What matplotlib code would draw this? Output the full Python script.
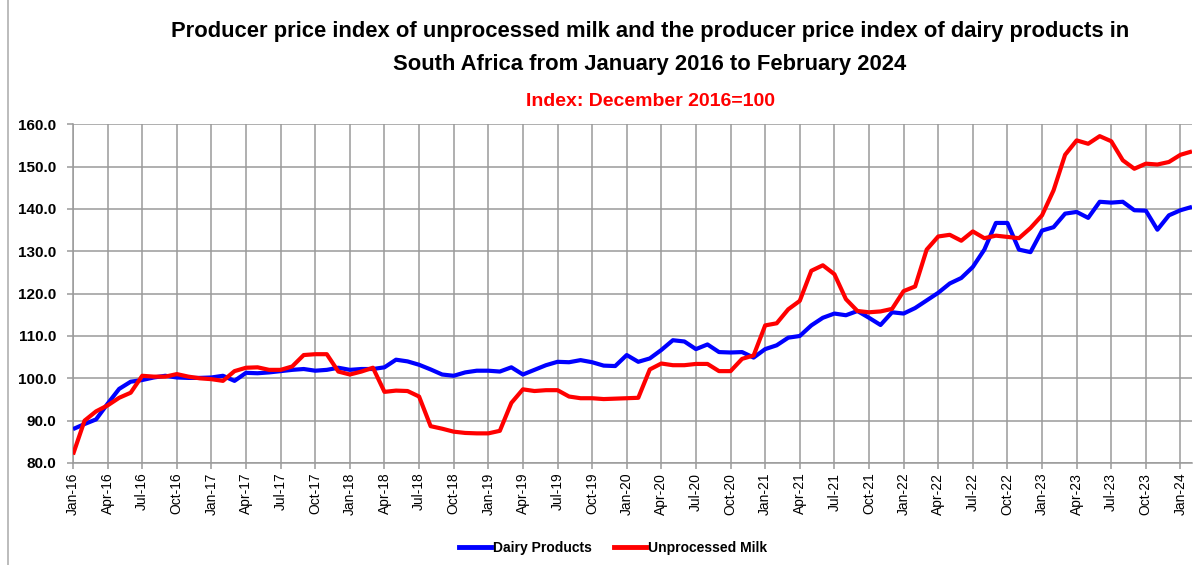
import matplotlib
matplotlib.use("Agg")
import matplotlib.pyplot as plt
from matplotlib.lines import Line2D

months = ["Jan", "Feb", "Mar", "Apr", "May", "Jun", "Jul", "Aug", "Sep", "Oct", "Nov", "Dec"]
dates = [f"{m}-{y:02d}" for y in range(16, 25) for m in months][:98]

dairy = [
    88.0, 89.2, 90.3, 94.0, 97.5, 99.2, 99.6, 100.2, 100.6, 100.2, 100.1, 100.1,
    100.2, 100.6, 99.4, 101.3, 101.2, 101.4, 101.7, 102.0, 102.2, 101.8, 102.0, 102.5,
    102.0, 102.2, 102.2, 102.6, 104.4, 104.0, 103.2, 102.1, 100.9, 100.6, 101.4, 101.8,
    101.8, 101.6, 102.6, 100.9, 102.0, 103.1, 103.9, 103.8, 104.3, 103.8, 103.0, 102.9,
    105.5, 103.9, 104.7, 106.7, 109.0, 108.7, 106.9, 108.0, 106.2, 106.1, 106.2, 104.9,
    106.9, 107.8, 109.6, 110.0, 112.5, 114.3, 115.3, 114.9, 115.9, 114.3, 112.6, 115.6,
    115.3, 116.6, 118.4, 120.2, 122.4, 123.7, 126.3, 130.4, 136.7, 136.7, 130.4, 129.8,
    134.9, 135.7, 138.9, 139.3, 137.9, 141.7, 141.5, 141.7, 139.7, 139.6, 135.1, 138.5,
    139.7, 140.5,
]
milk = [
    82.0, 90.0, 92.2, 93.6, 95.4, 96.6, 100.6, 100.4, 100.4, 101.0, 100.4, 100.0,
    99.8, 99.4, 101.7, 102.5, 102.6, 102.0, 102.0, 102.8, 105.5, 105.7, 105.7, 101.6,
    100.9, 101.6, 102.5, 96.8, 97.1, 97.0, 95.7, 88.7, 88.1, 87.4, 87.1, 87.0,
    87.0, 87.6, 94.2, 97.4, 97.0, 97.2, 97.2, 95.7, 95.3, 95.3, 95.1, 95.2,
    95.3, 95.4, 102.1, 103.5, 103.1, 103.1, 103.4, 103.4, 101.7, 101.7, 104.6, 105.4,
    112.5, 113.0, 116.3, 118.3, 125.4, 126.7, 124.6, 118.7, 115.9, 115.6, 115.8, 116.4,
    120.6, 121.7, 130.4, 133.5, 133.9, 132.5, 134.7, 133.1, 133.7, 133.4, 133.1, 135.5,
    138.5, 144.4, 152.8, 156.2, 155.4, 157.2, 156.0, 151.5, 149.5, 150.7, 150.5, 151.1,
    152.8, 153.6,
]

title = ("Producer price index of unprocessed milk and the producer price index of dairy products in\n"
         "South Africa from January 2016 to February 2024")
subtitle = "Index: December 2016=100"
series_names = ["Dairy Products", "Unprocessed Milk"]
yticks = [80, 90, 100, 110, 120, 130, 140, 150, 160]

plt.rcParams['font.family'] = ['Liberation Sans', 'DejaVu Sans']

W, H = 1198, 565
fig = plt.figure(figsize=(W / 100, H / 100), dpi=100)
ax = fig.add_axes([73 / W, 1 - 463 / H, (1192 - 73) / W, (463 - 124.3) / H])

x = list(range(len(dates)))
grid_c = "#9a9a9a"
ax.plot(x, dairy, color="#0000FF", lw=3.0, solid_capstyle="butt", zorder=3)
ax.plot(x, milk, color="#FF0000", lw=3.0, solid_capstyle="butt", zorder=4)

ax.set_xlim(0, len(dates) - 1)
ax.set_ylim(80, 160)
ax.set_yticks(yticks)
ax.set_yticklabels([f"{v:.1f}" for v in yticks], fontsize=11, fontweight="bold")
tick_pos = list(range(0, len(dates), 3))
ax.set_xticks(tick_pos)
ax.set_xticklabels([dates[i] for i in tick_pos], rotation=90, fontsize=10)
ax.grid(True, color=grid_c, lw=1.1, zorder=0)
ax.tick_params(axis="both", length=4, width=1.1, color=grid_c)
ax.tick_params(axis="y", pad=8)
ax.tick_params(axis="x", pad=3)
for s in ["top", "right"]:
    ax.spines[s].set_visible(False)
for s in ["left", "bottom"]:
    ax.spines[s].set_color(grid_c)
    ax.spines[s].set_linewidth(1.1)

fig.text(650 / W, 1 - 48 / H, title, ha="center", va="center", fontsize=15.8,
         fontweight="bold", linespacing=1.75)
fig.text(650 / W, 1 - 102 / H, subtitle, ha="center", va="center", fontsize=14,
         fontweight="bold", color="#FF0000")

handles = [Line2D([], [], color="#0000FF", lw=3.5), Line2D([], [], color="#FF0000", lw=3.5)]
fig.legend(handles, series_names, loc="center", bbox_to_anchor=(613 / W, 1 - 548 / H),
           ncol=2, frameon=False, prop={"weight": "bold", "size": 10},
           handlelength=2.3, handletextpad=0.15, columnspacing=1.6)

fig.add_artist(Line2D([8 / W, 8 / W], [0, 1], color="#b0b0b0", lw=1.2, transform=fig.transFigure))

fig.savefig("out.png", dpi=100)
